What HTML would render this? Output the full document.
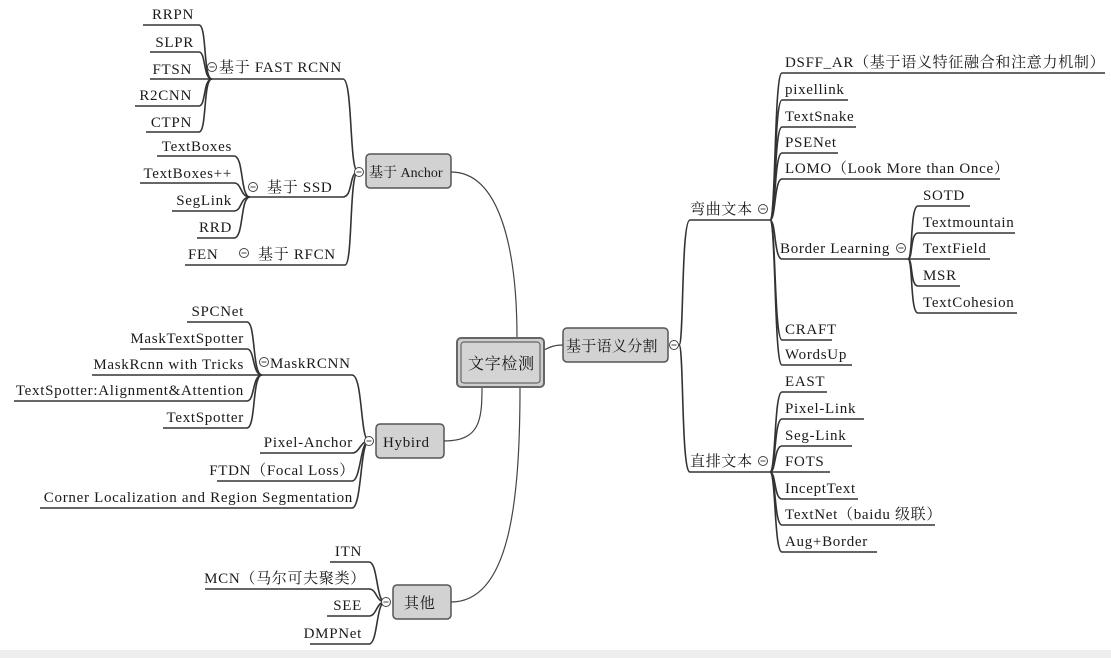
<!DOCTYPE html>
<html><head><meta charset="utf-8"><style>
html,body{margin:0;padding:0;background:#fff;}
svg{display:block;}
text{font-family:"Liberation Serif","Noto Serif CJK SC","Noto Sans CJK SC",serif;font-size:15px;letter-spacing:0.7px;fill:#1a1a1a;}
.l{fill:none;stroke:#333;stroke-width:1.6;}
.c{fill:none;stroke:#444;stroke-width:1.2;}
.box{fill:#d2d2d2;stroke:#555;stroke-width:1.5;}
</style></head><body>
<svg width="1111" height="658" viewBox="0 0 1111 658" xmlns="http://www.w3.org/2000/svg">
<rect x="0" y="650" width="1111" height="8" fill="#eeeeee"/>
<defs>
<g id="col"><circle cx="0" cy="0" r="4.5" fill="#fff" stroke="#444" stroke-width="1"/><line x1="-2.5" y1="0" x2="2.5" y2="0" stroke="#444" stroke-width="1"/></g>
</defs>

<path class="l" d="M143 25 H199 C207 25 203 79 212 79"/>
<path class="l" d="M150 52 H199 C206 52 203 79 212 79"/>
<path class="l" d="M150 79 H212"/>
<path class="l" d="M135 106 H199 C206 106 203 79 212 79"/>
<path class="l" d="M146 132 H199 C207 132 203 79 212 79"/>
<text x="194" y="19" text-anchor="end">RRPN</text>
<text x="194" y="47" text-anchor="end">SLPR</text>
<text x="192" y="74" text-anchor="end">FTSN</text>
<text x="192" y="100" text-anchor="end">R2CNN</text>
<text x="192" y="127" text-anchor="end">CTPN</text>
<path class="l" d="M212 79 H343 C353 79 349 172 358 172"/>
<use href="#col" x="212" y="67"/>
<text x="219" y="72">基于 FAST RCNN</text>
<path class="l" d="M157 156 H234 C244 156 240 197 250 197"/>
<path class="l" d="M140 183 H234 C242 183 240 197 250 197"/>
<path class="l" d="M172 211 H234 C242 211 240 197 250 197"/>
<path class="l" d="M197 238 H234 C244 238 240 197 250 197"/>
<text x="232" y="151" text-anchor="end">TextBoxes</text>
<text x="232" y="178" text-anchor="end">TextBoxes++</text>
<text x="232" y="205" text-anchor="end">SegLink</text>
<text x="232" y="232" text-anchor="end">RRD</text>
<path class="l" d="M250 197 H343 C353 197 349 172 358 172"/>
<use href="#col" x="253" y="187"/>
<text x="267" y="192">基于 SSD</text>
<path class="l" d="M185 265 H345 C353 265 349 172 358 172"/>
<text x="188" y="259">FEN</text>
<use href="#col" x="244" y="253"/>
<text x="258" y="259">基于 RFCN</text>
<use href="#col" x="359" y="172"/>
<rect class="box" x="366" y="154" width="85" height="34" rx="4"/>
<text x="369" y="177" style="letter-spacing:0;font-size:14px">基于 Anchor</text>

<path class="l" d="M187 322 H247 C256 322 252 375 262 375"/>
<path class="l" d="M140 349 H247 C255 349 252 375 262 375"/>
<path class="l" d="M92 375 H262"/>
<path class="l" d="M14 401 H247 C255 401 252 375 262 375"/>
<path class="l" d="M163 428 H247 C256 428 252 375 262 375"/>
<text x="244" y="316" text-anchor="end">SPCNet</text>
<text x="244" y="343" text-anchor="end">MaskTextSpotter</text>
<text x="244" y="369" text-anchor="end">MaskRcnn with Tricks</text>
<text x="244" y="395" text-anchor="end">TextSpotter:Alignment&amp;Attention</text>
<text x="244" y="422" text-anchor="end">TextSpotter</text>
<path class="l" d="M262 375 H352 C363 375 360 441 369 441"/>
<use href="#col" x="264" y="362"/>
<text x="270" y="368">MaskRCNN</text>
<path class="l" d="M260 453 H352 C360 453 360 441 369 441"/>
<path class="l" d="M217 481 H352 C361 481 360 441 369 441"/>
<path class="l" d="M40 508 H352 C362 508 360 441 369 441"/>
<text x="353" y="447" text-anchor="end">Pixel-Anchor</text>
<text x="355" y="475" text-anchor="end">FTDN（Focal Loss）</text>
<text x="353" y="502" text-anchor="end">Corner Localization and Region Segmentation</text>
<use href="#col" x="369" y="441"/>
<rect class="box" x="376" y="424" width="68" height="34" rx="4"/>
<text x="383" y="447">Hybird</text>

<path class="l" d="M330 562 H369 C378 562 376 602 385 602"/>
<path class="l" d="M205 589 H369 C377 589 376 602 385 602"/>
<path class="l" d="M327 616 H369 C377 616 376 602 385 602"/>
<path class="l" d="M310 644 H369 C378 644 376 602 385 602"/>
<text x="362" y="556" text-anchor="end">ITN</text>
<text x="366" y="583" text-anchor="end">MCN（马尔可夫聚类）</text>
<text x="362" y="610" text-anchor="end">SEE</text>
<text x="362" y="638" text-anchor="end">DMPNet</text>
<use href="#col" x="386" y="602"/>
<rect class="box" x="393" y="585" width="58" height="34" rx="4"/>
<text x="404" y="608">其他</text>

<path class="c" d="M451 172 C500 172 517 250 517 338"/>
<path class="c" d="M444 441 C480 441 482 420 482 387"/>
<path class="c" d="M451 602 C510 602 520 500 520 387"/>
<path class="c" d="M544 350 C552 346 556 345 563 345"/>

<rect x="457" y="338" width="87" height="49" rx="4" fill="#cfcfcf" stroke="#666" stroke-width="2"/>
<rect x="461" y="342" width="79" height="41" rx="3" fill="#d4d4d4" stroke="#666" stroke-width="1.2"/>
<text x="468" y="369" style="font-size:16px">文字检测</text>

<rect class="box" x="563" y="328" width="105" height="34" rx="4"/>
<text x="566" y="351" style="letter-spacing:0.3px">基于语义分割</text>
<use href="#col" x="674" y="345"/>
<path class="l" d="M679 345 C684 345 681 220 690 220 H770"/>
<path class="l" d="M679 345 C684 345 681 472 690 472 H770"/>
<text x="690" y="214">弯曲文本</text>
<use href="#col" x="763" y="209"/>
<text x="690" y="466">直排文本</text>
<use href="#col" x="763" y="461"/>

<path class="l" d="M770 220 C776 220 774 73 782 73 H1105"/>
<path class="l" d="M770 220 C776 220 774 100 782 100 H848"/>
<path class="l" d="M770 220 C776 220 774 127 782 127 H856"/>
<path class="l" d="M770 220 C776 220 774 153 782 153 H838"/>
<path class="l" d="M770 220 C776 220 774 179 782 179 H1000"/>
<path class="l" d="M770 220 C776 220 774 259 782 259 H910"/>
<path class="l" d="M770 220 C776 220 774 340 782 340 H832"/>
<path class="l" d="M770 220 C776 220 774 365 782 365 H852"/>
<text x="785" y="67">DSFF_AR（基于语义特征融合和注意力机制）</text>
<text x="785" y="94">pixellink</text>
<text x="785" y="121">TextSnake</text>
<text x="785" y="147">PSENet</text>
<text x="785" y="173">LOMO（Look More than Once）</text>
<text x="780" y="253">Border Learning</text>
<use href="#col" x="901" y="248"/>
<text x="785" y="334">CRAFT</text>
<text x="785" y="359">WordsUp</text>
<path class="l" d="M908 259 C913 259 910 206 918 206 H970"/>
<path class="l" d="M908 259 C913 259 910 233 918 233 H1015"/>
<path class="l" d="M908 259 H990"/>
<path class="l" d="M908 259 C913 259 910 286 918 286 H960"/>
<path class="l" d="M908 259 C913 259 910 313 918 313 H1017"/>
<text x="923" y="200">SOTD</text>
<text x="923" y="227">Textmountain</text>
<text x="923" y="253">TextField</text>
<text x="923" y="280">MSR</text>
<text x="923" y="307">TextCohesion</text>

<path class="l" d="M770 472 C776 472 774 392 782 392 H827"/>
<path class="l" d="M770 472 C776 472 774 419 782 419 H864"/>
<path class="l" d="M770 472 C776 472 774 446 782 446 H852"/>
<path class="l" d="M770 472 H830"/>
<path class="l" d="M770 472 C776 472 774 499 782 499 H858"/>
<path class="l" d="M770 472 C776 472 774 525 782 525 H935"/>
<path class="l" d="M770 472 C776 472 774 552 782 552 H877"/>
<text x="785" y="386">EAST</text>
<text x="785" y="413">Pixel-Link</text>
<text x="785" y="440">Seg-Link</text>
<text x="785" y="466">FOTS</text>
<text x="785" y="493">InceptText</text>
<text x="785" y="519">TextNet（baidu 级联）</text>
<text x="785" y="546">Aug+Border</text>
</svg>
</body></html>
